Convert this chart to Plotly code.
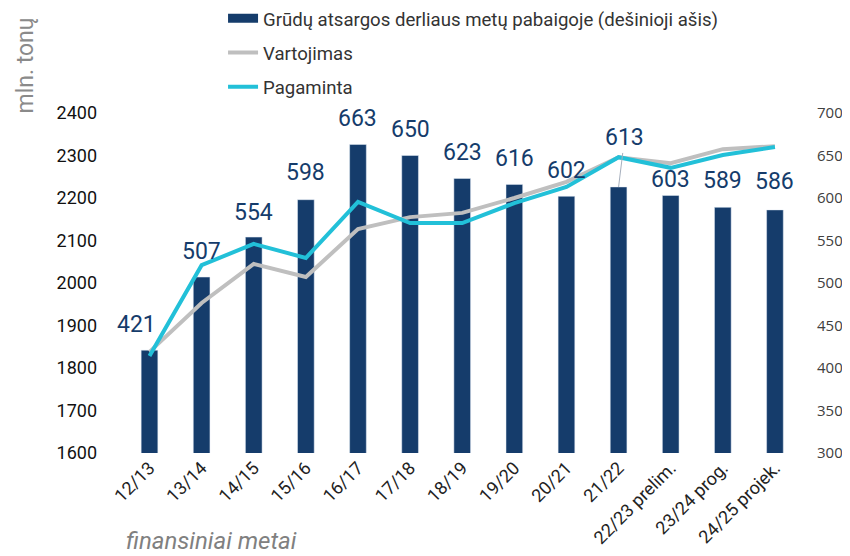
import plotly.graph_objects as go

categories = ["12/13", "13/14", "14/15", "15/16", "16/17", "17/18", "18/19", "19/20",
              "20/21", "21/22", "22/23 prelim.", "23/24 prog.", "24/25 projek."]
stocks = [421, 507, 554, 598, 663, 650, 623, 616, 602, 613, 603, 589, 586]
consumption = [1838, 1953, 2045, 2014, 2127, 2155, 2165, 2200, 2238, 2296, 2282, 2315, 2322]
production = [1828, 2042, 2092, 2059, 2191, 2141, 2141, 2188, 2226, 2296, 2271, 2301, 2320]

left_ticks = [1600, 1700, 1800, 1900, 2000, 2100, 2200, 2300, 2400]
right_ticks = [300, 350, 400, 450, 500, 550, 600, 650, 700]

NAVY = "#153c6b"
CYAN = "#22c0d8"
GRAY = "#bfbfbf"
FONT = "Roboto"
BAR_NAME = "Grūdų atsargos derliaus metų pabaigoje (dešinioji ašis)"

fig = go.Figure()
fig.add_trace(go.Bar(
    x=categories, y=stocks, name=BAR_NAME, showlegend=False,
    marker=dict(color=NAVY), yaxis="y", legendgroup="a",
))
# legend entry for the bars (wide rectangular swatch)
fig.add_trace(go.Scatter(
    x=[None], y=[None], name=BAR_NAME, mode="lines",
    line=dict(color=NAVY, width=9), yaxis="y", legendgroup="a",
))
fig.add_trace(go.Scatter(
    x=categories, y=consumption, name="Vartojimas", mode="lines",
    line=dict(color=GRAY, width=4), yaxis="y2", legendgroup="b",
))
fig.add_trace(go.Scatter(
    x=categories, y=production, name="Pagaminta", mode="lines",
    line=dict(color=CYAN, width=4), yaxis="y2", legendgroup="c",
))

# label offsets (px) per bar
yshifts = [26, 26, 25, 27, 26, 26, 26, 26, 26, 0, 16, 27, 28]
xshifts = [-13, 0, 0, 0, 0, 0, 0, 0, 0, 0, 0, 0, 0]
for i, (c, v) in enumerate(zip(categories, stocks)):
    if c == "21/22":
        fig.add_annotation(x=c, y=v, xref="x", yref="y", text=str(v), showarrow=True,
                           arrowhead=0, arrowwidth=1, arrowcolor="#a6afbd", ax=6, ay=-49,
                           standoff=0, font=dict(family=FONT, size=23, color=NAVY))
    else:
        fig.add_annotation(x=c, y=v, xref="x", yref="y", text=str(v), showarrow=False,
                           yshift=yshifts[i], xshift=xshifts[i],
                           font=dict(family=FONT, size=23, color=NAVY))

fig.add_annotation(x=-0.131, y=1.14, xref="paper", yref="paper", text="mln. tonų",
                   textangle=-90, showarrow=False, xanchor="center", yanchor="middle",
                   font=dict(family=FONT, size=23, color="#8a8a8a"))
fig.add_annotation(x=0.14, y=-0.259, xref="paper", yref="paper", text="<i>finansiniai metai</i>",
                   showarrow=False, xanchor="center", yanchor="middle",
                   font=dict(family=FONT, size=24, color="#808080"))

fig.update_layout(
    width=842, height=548,
    margin=dict(l=107, r=49, t=105, b=103, autoexpand=False),
    paper_bgcolor="white", plot_bgcolor="white",
    bargap=0.68,
    font=dict(family=FONT, color="#222222"),
    legend=dict(
        x=0.1575, y=1.333, xanchor="left", yanchor="top",
        font=dict(family=FONT, size=18.6, color="#333333"),
        traceorder="grouped", tracegroupgap=7, bgcolor="rgba(0,0,0,0)",
    ),
    xaxis=dict(
        tickangle=-45, showgrid=False, showline=False, ticks="",
        tickfont=dict(family=FONT, size=18, color="#222222"),
    ),
    yaxis=dict(
        side="right", range=[300, 700], tickvals=right_ticks, showgrid=False,
        zeroline=False, showline=False, ticks="", ticklabelstandoff=15,
        tickfont=dict(family="Open Sans", size=15, color="#404040"),
    ),
    yaxis2=dict(
        side="left", overlaying="y", range=[1600, 2400], tickvals=left_ticks,
        showgrid=False, zeroline=False, showline=False, ticks="", ticklabelstandoff=17,
        tickfont=dict(family=FONT, size=18, color="#111111"),
    ),
)

fig.write_html("out.html")
